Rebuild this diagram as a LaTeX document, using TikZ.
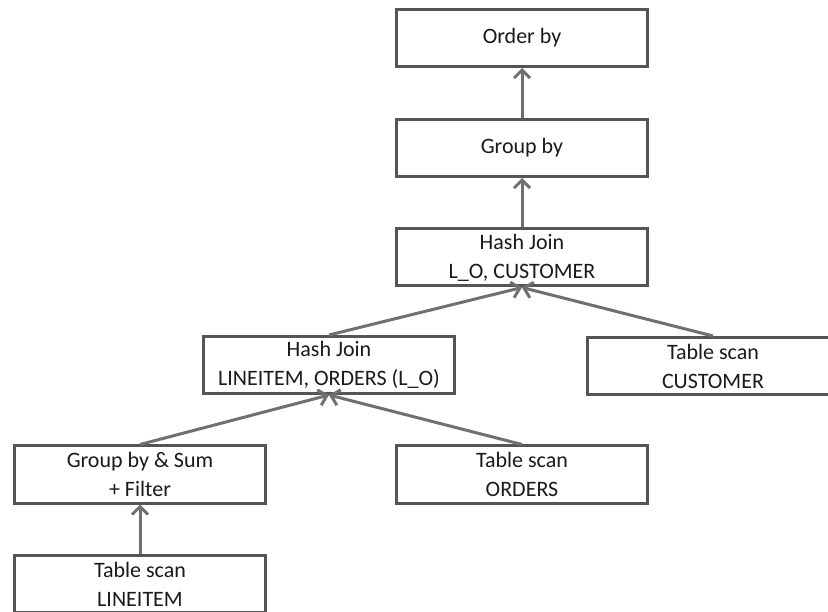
\documentclass[tikz,border=0pt]{standalone}
\usepackage{fontspec}
\setmainfont{Carlito}
\usetikzlibrary{arrows.meta}
\definecolor{boxline}{HTML}{555555}
\definecolor{arrowline}{HTML}{707070}
\definecolor{txt}{HTML}{1A1A1A}
\begin{document}
\begin{tikzpicture}[x=1pt,y=-1pt,
  opbox/.style={draw=boxline, line width=3pt, fill=white,
    minimum width=251pt, minimum height=57pt, inner sep=0pt,
    align=center, text=txt, font=\fontsize{22}{29}\selectfont},
  flow/.style={draw=arrowline, line width=3pt,
    -{Straight Barb[length=8pt,width=16pt]}}]
\useasboundingbox (0,0) rectangle (828,612);
\begin{scope}
\clip (0,0) rectangle (828,612);
% operator boxes of the query plan
\node[opbox] (order)    at (522,38)    {Order by};
\node[opbox] (group)    at (522,148)   {Group by};
\node[opbox] (hjtop)    at (522,257.5) {Hash Join\\L\_O, CUSTOMER};
\node[opbox] (hjlow)    at (329,365)   {Hash Join\\LINEITEM, ORDERS (L\_O)};
\node[opbox] (cust)     at (713,366)   {Table scan\\CUSTOMER};
\node[opbox] (gsum)     at (140,474.5) {Group by \& Sum\\+ Filter};
\node[opbox] (orders)   at (522,474.5) {Table scan\\ORDERS};
\node[opbox] (lineitem) at (140,584)   {Table scan\\LINEITEM};
% data flow, bottom to top
\draw[flow] (group.north)    -- (order.south);
\draw[flow] (hjtop.north)    -- (group.south);
\draw[flow] (hjlow.north)    -- (hjtop.south);
\draw[flow] (cust.north)     -- (hjtop.south);
\draw[flow] (gsum.north)     -- (hjlow.south);
\draw[flow] (orders.north)   -- (hjlow.south);
\draw[flow] (lineitem.north) -- (gsum.south);
\end{scope}
\end{tikzpicture}
\end{document}
